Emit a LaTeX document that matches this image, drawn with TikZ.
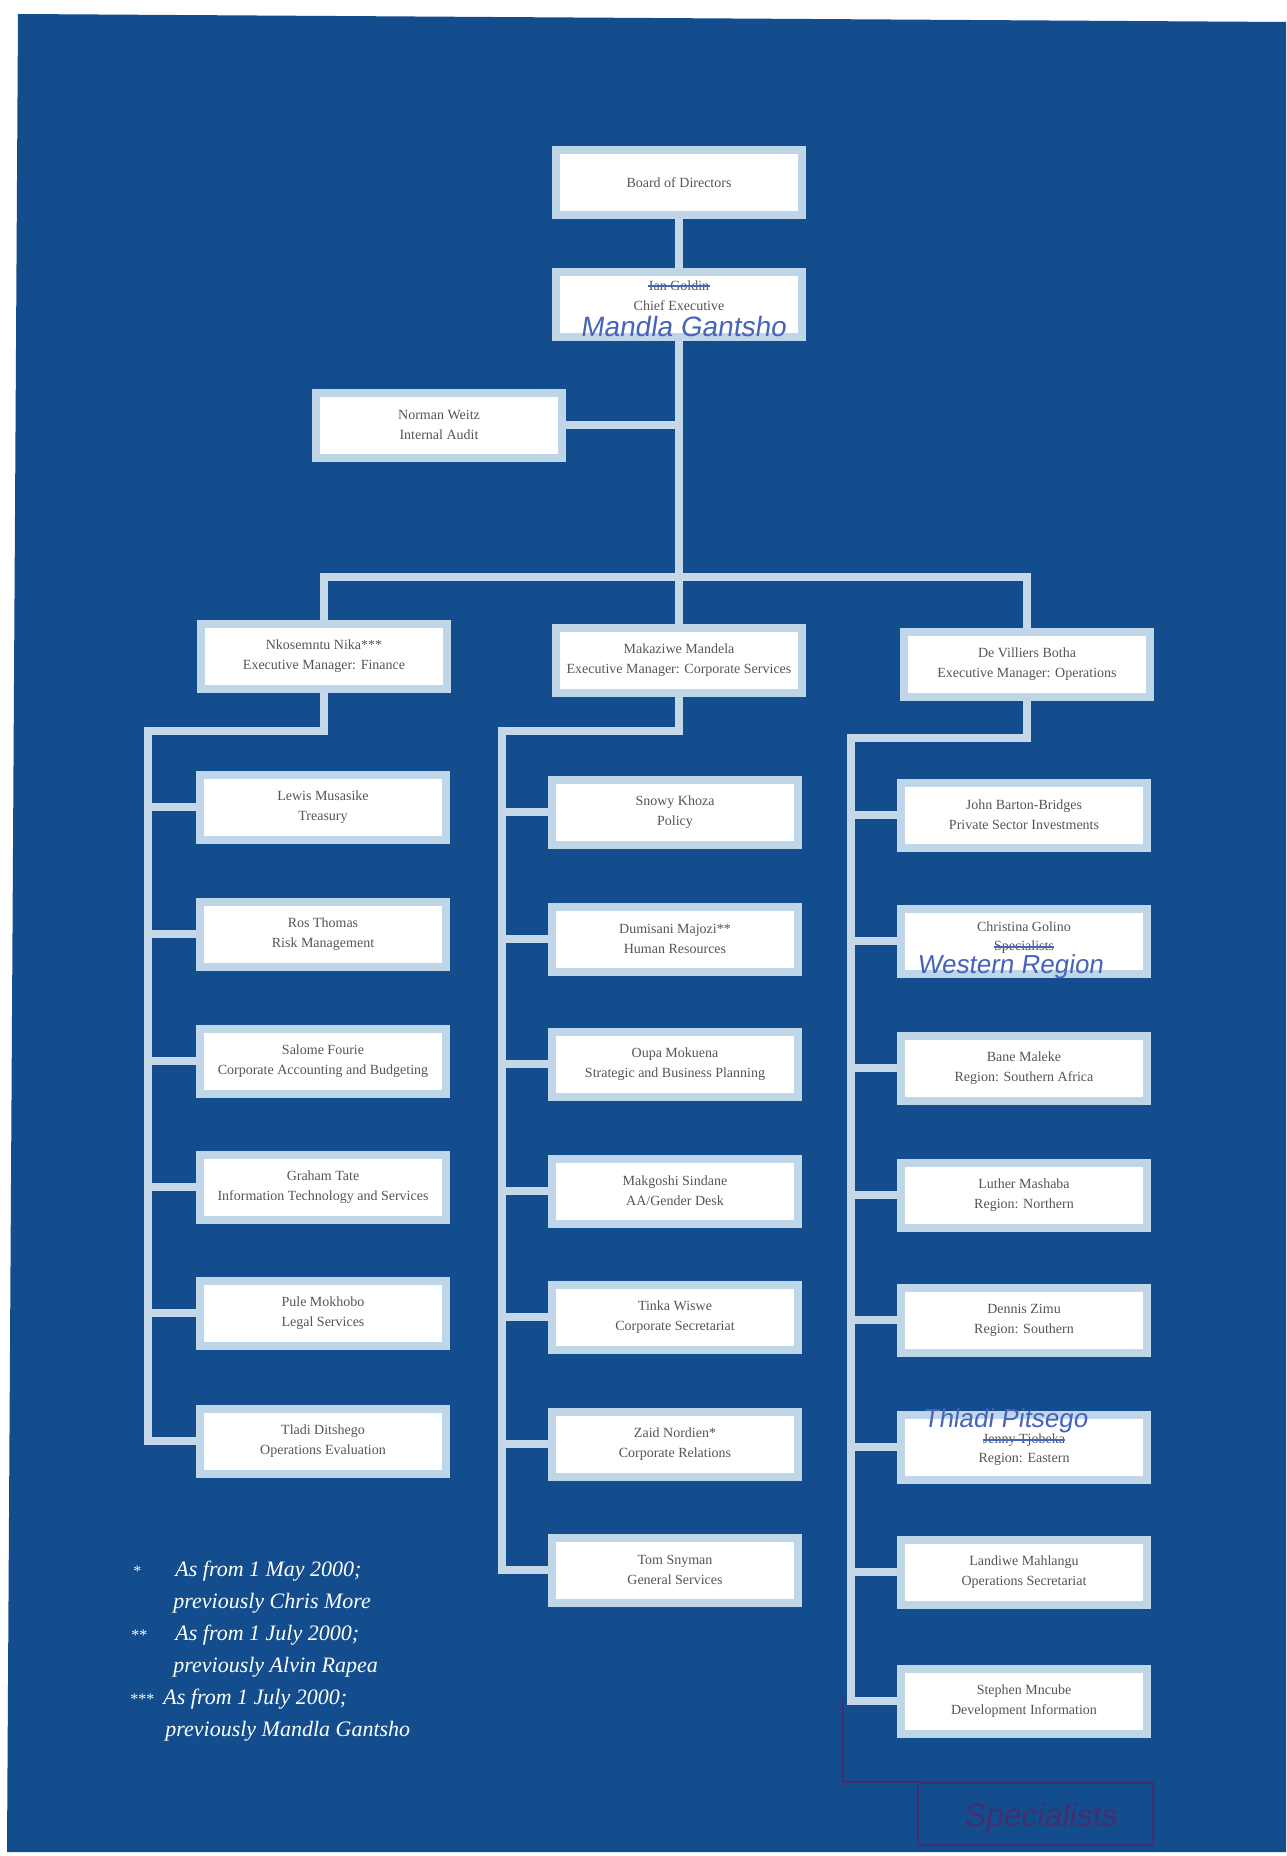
\documentclass[tikz,border=0pt]{standalone}
\usepackage{fontspec}
\setmainfont{Liberation Serif}
\newfontfamily\handfont[FakeSlant=0.15]{Liberation Sans}
\definecolor{bgblue}{RGB}{19,77,141}
\definecolor{boxframe}{RGB}{190,214,232}
\definecolor{linkcol}{RGB}{196,216,232}
\definecolor{boxtext}{RGB}{85,85,85}
\definecolor{inkblue}{RGB}{70,100,185}
\definecolor{inkpurple}{RGB}{70,45,110}
\pgfdeclarelayer{bgfill}
\pgfdeclarelayer{background}
\pgfsetlayers{bgfill,background,main}
\tikzset{
  orgbox/.style={draw=boxframe, line width=4pt, fill=white, minimum width=123pt,
    minimum height=32.5pt, inner sep=0pt, align=center,
    font=\fontsize{7}{10}\selectfont, text=boxtext},
  boxline/.style={inner sep=0pt, font=\fontsize{7}{10}\selectfont, text=boxtext},
  link/.style={draw=linkcol, line width=4pt},
  hand/.style={inner sep=0pt, font=\handfont\fontsize{13}{13}\selectfont, text=inkblue},
  strike/.style={draw=inkblue, line width=0.7pt},
  pen/.style={draw=inkpurple, line width=1pt},
  specbox/.style={draw=inkpurple, line width=1pt, minimum width=117.5pt, minimum height=31pt, inner sep=0pt},
  fnote/.style={inner sep=0pt, anchor=base west, text=white, font=\fontsize{11}{13}\selectfont\itshape},
  fstar/.style={inner sep=0pt, anchor=base west, text=white, font=\fontsize{8}{10}\selectfont}
}
\begin{document}
\begin{tikzpicture}[x=0.5pt,y=-0.5pt]
\useasboundingbox (0,0) rectangle (1286,1856);
\begin{pgfonlayer}{bgfill}
\fill[white] (0,0) rectangle (1286,1856);
\fill[bgblue] (18,14) -- (1286,22) -- (1286,1852) -- (7,1852) -- cycle;
\end{pgfonlayer}

% top
\node[orgbox] (board) at (679,183) {Board of Directors};
\node[orgbox] (ceo) at (679,305) {};
\node[boxline] (ceoname) at (679,286) {Ian Goldin};
\node[boxline] (ceotitle) at (679,306) {Chief Executive};
\node[orgbox] (audit) at (439,425) {Norman Weitz\\Internal Audit};

% executive managers
\node[orgbox] (fin) at (324,656) {Nkosemntu Nika***\\Executive Manager: Finance};
\node[orgbox] (corp) at (679,660) {Makaziwe Mandela\\Executive Manager: Corporate Services};
\node[orgbox] (ops) at (1027,664) {De Villiers Botha\\Executive Manager: Operations};

% finance column
\node[orgbox] (l1) at (323,807) {Lewis Musasike\\Treasury};
\node[orgbox] (l2) at (323,934) {Ros Thomas\\Risk Management};
\node[orgbox] (l3) at (323,1061) {Salome Fourie\\Corporate Accounting and Budgeting};
\node[orgbox] (l4) at (323,1187) {Graham Tate\\Information Technology and Services};
\node[orgbox] (l5) at (323,1313) {Pule Mokhobo\\Legal Services};
\node[orgbox] (l6) at (323,1441) {Tladi Ditshego\\Operations Evaluation};

% corporate services column
\node[orgbox] (m1) at (675,812) {Snowy Khoza\\Policy};
\node[orgbox] (m2) at (675,939) {Dumisani Majozi**\\Human Resources};
\node[orgbox] (m3) at (675,1064) {Oupa Mokuena\\Strategic and Business Planning};
\node[orgbox] (m4) at (675,1191) {Makgoshi Sindane\\AA/Gender Desk};
\node[orgbox] (m5) at (675,1317) {Tinka Wiswe\\Corporate Secretariat};
\node[orgbox] (m6) at (675,1444) {Zaid Nordien*\\Corporate Relations};
\node[orgbox] (m7) at (675,1570) {Tom Snyman\\General Services};

% operations column
\node[orgbox] (r1) at (1024,815) {John Barton-Bridges\\Private Sector Investments};
\node[orgbox] (r2) at (1024,941) {};
\node[boxline] (r2name) at (1024,927) {Christina Golino};
\node[boxline] (r2old) at (1024,947) {Specialists};
\node[orgbox] (r3) at (1024,1068) {Bane Maleke\\Region: Southern Africa};
\node[orgbox] (r4) at (1024,1195) {Luther Mashaba\\Region: Northern};
\node[orgbox] (r5) at (1024,1320) {Dennis Zimu\\Region: Southern};
\node[orgbox] (r6) at (1024,1447) {};
\node[boxline] (r6old) at (1024,1440) {Jenny Tjobeka};
\node[boxline] (r6title) at (1024,1459) {Region: Eastern};
\node[orgbox] (r7) at (1024,1572) {Landiwe Mahlangu\\Operations Secretariat};
\node[orgbox] (r8) at (1024,1701) {Stephen Mncube\\Development Information};

% connectors
\begin{pgfonlayer}{background}
\draw[link] (board) -- (ceo);
\draw[link] (ceo) -- (corp);
\draw[link] (audit.east) -- (audit.east -| ceo.south);
\coordinate (hbar) at (679,577);
\draw[link] (fin.north) |- (hbar) -| (ops.north);
\coordinate (lcol) at (148,731);
\coordinate (mcol) at (502,731);
\coordinate (rcol) at (851,738);
\draw[link] (fin.south) |- (lcol) |- (l6.west);
\foreach \n in {l1,l2,l3,l4,l5} \draw[link] (lcol |- \n.west) -- (\n.west);
\draw[link] (corp.south) |- (mcol) |- (m7.west);
\foreach \n in {m1,m2,m3,m4,m5,m6} \draw[link] (mcol |- \n.west) -- (\n.west);
\draw[link] (ops.south) |- (rcol) |- (r8.west);
\foreach \n in {r1,r2,r3,r4,r5,r6,r7} \draw[link] (rcol |- \n.west) -- (\n.west);
\end{pgfonlayer}

% handwritten corrections
\draw[strike] (ceoname.west) -- (ceoname.east);
\node[hand, font=\handfont\fontsize{14}{14}\selectfont] (ceohand) at (683,326) {Mandla Gantsho};
\draw[strike] (r2old.west) -- (r2old.east);
\node[hand] (r2hand) at (1010,967) {Western Region};
\draw[strike] (r6old.west) -- (r6old.east);
\node[hand] (r6hand) at (1005,1421) {Thladi Pitsego};

% specialists box
\coordinate (spstart) at (843,1700);
\node[specbox] (spec) at (1035,1814) {};
\draw[pen] (spstart) |- (spec.north east);
\node[hand, text=inkpurple, font=\handfont\fontsize{16}{16}\selectfont] (spectext) at (1040,1818) {Specialists};

% footnotes
\node[fstar] (s1) at (133,1576) {*};
\node[fnote] (n1) at (175,1576) {As from 1 May 2000;};
\node[fnote] (n1b) at (173,1608) {previously Chris More};
\node[fstar] (s2) at (131,1640) {**};
\node[fnote] (n2) at (175,1640) {As from 1 July 2000;};
\node[fnote] (n2b) at (173,1672) {previously Alvin Rapea};
\node[fstar] (s3) at (130,1704) {***};
\node[fnote] (n3) at (163,1704) {As from 1 July 2000;};
\node[fnote] (n3b) at (165,1736) {previously Mandla Gantsho};
\end{tikzpicture}
\end{document}
